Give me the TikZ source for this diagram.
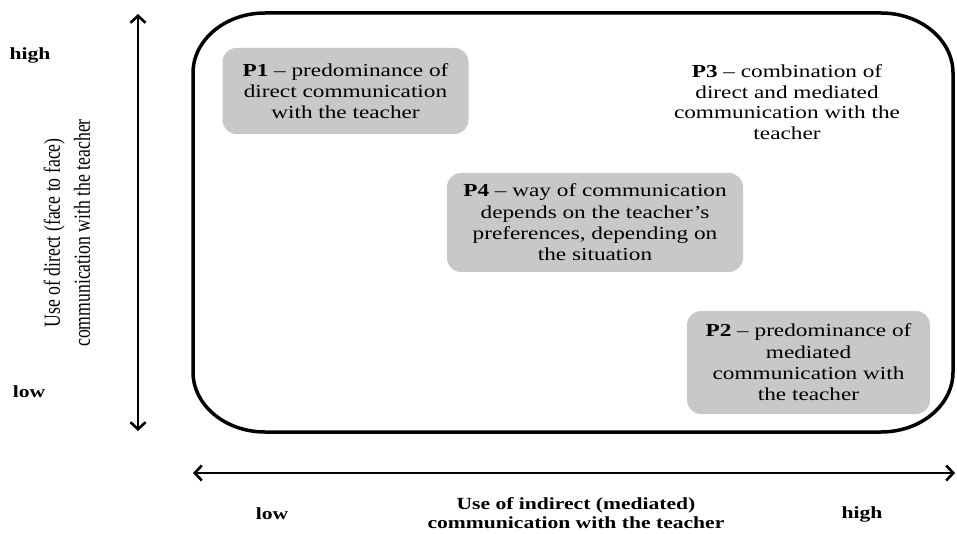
\documentclass[tikz,border=0pt]{standalone}
\usepackage{fontspec}
\setmainfont{Liberation Serif}[FakeStretch=1.27]
\newfontfamily\rotfont{Liberation Serif}[FakeStretch=0.77]
\usetikzlibrary{arrows.meta}
\definecolor{boxgray}{RGB}{200,200,200}
\tikzset{
  pbox/.style={fill=boxgray, rounded corners=14pt, align=center, inner sep=0pt, font=\fontsize{18.3}{21.3}\selectfont},
  ptext/.style={align=center, inner sep=0pt, font=\fontsize{18.3}{20.7}\selectfont},
  axislbl/.style={align=center, inner sep=0pt, font=\bfseries\fontsize{17}{19.5}\selectfont},
  axisarrow/.style={line width=2.6pt, {Straight Barb[length=7pt,width=15pt]}-{Straight Barb[length=7pt,width=15pt]}},
  frame/.style={line width=3.5pt}
}
\begin{document}
\begin{tikzpicture}[x=1pt,y=-1pt]
\useasboundingbox (0,0) rectangle (957,534);
% frame
\draw[frame] (193,73) .. controls (193,39.9) and (225.3,13) .. (265,13) -- (881,13)
  .. controls (920.7,13) and (953,39.9) .. (953,73) -- (953,372)
  .. controls (953,405.1) and (920.7,432) .. (881,432) -- (265,432)
  .. controls (225.3,432) and (193,405.1) .. (193,372) -- cycle;
% axes
\coordinate (vtop) at (138,14);
\coordinate (vbot) at (138,431);
\coordinate (hleft) at (193,473);
\coordinate (hright) at (955,473);
\draw[axisarrow] (vtop) -- (vbot);
\draw[axisarrow] (hleft) -- (hright);
% axis labels
\node[axislbl] (yhigh) at (30,55) {high};
\node[axislbl] (ylow) at (29,392) {low};
\node[axislbl] (xlow) at (272,514) {low};
\node[axislbl] (xhigh) at (862,514) {high};
\node[axislbl] (xlabel) at (576,513) {Use of indirect (mediated)\\communication with the teacher};
\node[align=center, inner sep=0pt, rotate=90, font=\rotfont\fontsize{23}{30}\selectfont] (ylabel) at (67,233) {Use of direct (face to face)\\communication with the teacher};
% boxes
\node[pbox, minimum width=246pt, minimum height=86pt] (p1) at (345.5,91) {\textbf{P1} – predominance of\\direct communication\\with the teacher};
\node[ptext] (p3) at (787,102) {\textbf{P3} – combination of\\direct and mediated\\communication with the\\teacher};
\node[pbox, minimum width=296pt, minimum height=99pt] (p4) at (595,222.5) {\textbf{P4} – way of communication\\depends on the teacher’s\\preferences, depending on\\the situation};
\node[pbox, minimum width=243pt, minimum height=103pt] (p2) at (808.5,362.5) {\textbf{P2} – predominance of\\mediated\\communication with\\the teacher};
\end{tikzpicture}
\end{document}
